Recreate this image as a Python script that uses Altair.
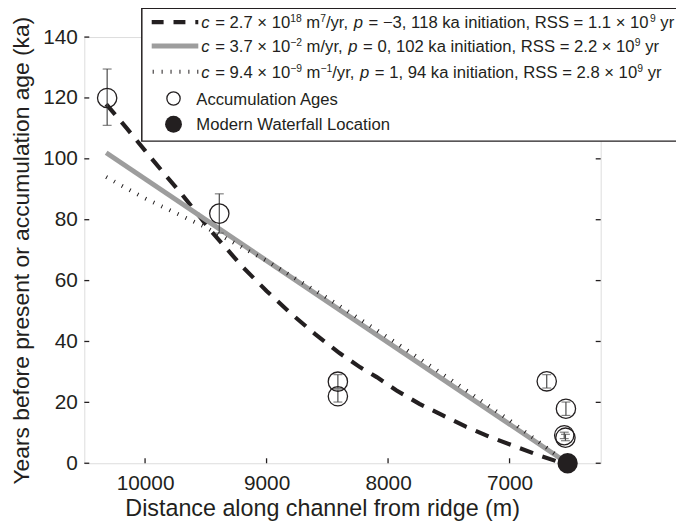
import altair as alt
import pandas as pd

# ---------------- data ----------------
# Accumulation ages (distance from ridge in m, age in ka, error bar low/high)
acc_dist = [10312, 9389, 8413, 8413, 6694, 6536, 6550, 6540]
acc_age = [120.0, 82.0, 26.8, 22.0, 26.9, 17.9, 9.2, 8.4]
acc_lo = [111.0, 75.6, 24.6, 20.1, 24.7, 15.7, 8.1, 7.4]
acc_hi = [129.5, 88.5, 29.1, 24.1, 29.1, 20.1, 10.2, 9.5]

# Modern waterfall location
wf_dist = [6522]
wf_age = [0.0]

# Model curves
dash_dist = [10320, 10150, 10000, 9850, 9700, 9450, 9200, 9000, 8800, 8600, 8400,
             8229, 8093, 7930, 7742, 7549, 7359, 7172, 6952, 6765, 6612, 6522]
dash_age = [118.0, 110.0, 102.7, 95.5, 88.5, 76.0, 64.6, 56.6, 49.2, 42.4, 36.2,
            31.5, 28.3, 23.9, 19.5, 15.7, 12.0, 8.8, 5.5, 2.7, 0.65, 0.0]

gray_dist = [10320, 6522]
gray_age = [102.0, 0.0]

dot_dist = [10320, 10000, 9505, 9000, 8500, 8000, 7500, 7000, 6522]
dot_age = [94.0, 87.0, 77.6, 66.5, 54.3, 41.3, 27.9, 14.1, 0.0]

x_ticks = [10000, 9000, 8000, 7000]
y_ticks = [0, 20, 40, 60, 80, 100, 120, 140]

# legend rows as runs of (text, style): n = normal, i = italic, s = superscript
legend_rows = [
    [("c", "i"), (" = 2.7 × 10", "n"), ("18", "s"), (" m", "n"), ("7", "s"), ("/yr, ", "n"),
     ("p", "i"), (" = −3, 118 ka initiation, RSS = 1.1 × 10", "n"), ("9", "s"), (" yr", "n")],
    [("c", "i"), (" = 3.7 × 10", "n"), ("−2", "s"), (" m/yr, ", "n"),
     ("p", "i"), (" = 0, 102 ka initiation, RSS = 2.2 × 10", "n"), ("9", "s"), (" yr", "n")],
    [("c", "i"), (" = 9.4 × 10", "n"), ("−9", "s"), (" m", "n"), ("−1", "s"), ("/yr, ", "n"),
     ("p", "i"), (" = 1, 94 ka initiation, RSS = 2.8 × 10", "n"), ("9", "s"), (" yr", "n")],
]
legend_marks = ["Accumulation Ages", "Modern Waterfall Location"]

# ---------------- chart ----------------
W, H = 521, 430
FONT = "Liberation Sans"
INK = "#231f20"
LFS = 16.8            # legend font size
SFS = LFS * 0.62      # superscript font size

# Liberation Sans (Arial-metric) advance widths, 1/1000 em
_adv = {" ": 278, "=": 584, ".": 278, ",": 278, "/": 278, "×": 584, "−": 584, "-": 333,
        "m": 833, "y": 500, "r": 333, "k": 500, "a": 556, "i": 222, "n": 556, "t": 278,
        "o": 556, "R": 722, "S": 667, "c": 500, "p": 556}
for ch in "0123456789":
    _adv[ch] = 556


def text_w(s, fs):
    return sum(_adv.get(ch, 556) for ch in s) * fs / 1000.0


xscale = alt.Scale(domain=[6250, 10500], reverse=True, nice=False, zero=False)
yscale = alt.Scale(domain=[0, 140], nice=False, zero=False)

acc = pd.DataFrame({"d": acc_dist, "a": acc_age, "lo": acc_lo, "hi": acc_hi})
wf = pd.DataFrame({"d": wf_dist, "a": wf_age})
dash = pd.DataFrame({"d": dash_dist, "a": dash_age})
gray = pd.DataFrame({"d": gray_dist, "a": gray_age})
dot = pd.DataFrame({"d": dot_dist, "a": dot_age})
xt = pd.DataFrame({"v": x_ticks})
yt = pd.DataFrame({"v": y_ticks})
one = alt.Data(values=[{}])

X = alt.X("d:Q", scale=xscale,
          axis=alt.Axis(values=x_ticks, format="d", ticks=False, tickSize=0, domain=False,
                        grid=False, labelFontSize=21, labelFont=FONT, labelColor=INK,
                        labelPadding=10, title="Distance along channel from ridge (m)",
                        titleFont=FONT, titleFontSize=23.5, titleFontWeight="normal",
                        titleColor=INK, titlePadding=3, titleX=240, titleAlign="center"))
Y = alt.Y("a:Q", scale=yscale,
          axis=alt.Axis(values=y_ticks, ticks=False, tickSize=0, domain=False, grid=False,
                        labelFontSize=21, labelFont=FONT, labelColor=INK, labelPadding=7,
                        title="Years before present or accumulation age (ka)",
                        titleFont=FONT, titleFontSize=23, titleFontWeight="normal",
                        titleColor=INK, titlePadding=9))

base_line = alt.Chart(dash).mark_line(color=INK, strokeWidth=4.2, strokeDash=[14, 10]).encode(x=X, y=Y)
gray_line = alt.Chart(gray).mark_line(color="#9d9d9d", strokeWidth=5).encode(x="d:Q", y="a:Q")
dot_line = alt.Chart(dot).mark_line(color=INK, strokeWidth=4, strokeDash=[1, 8]).encode(x="d:Q", y="a:Q")

err = alt.Chart(acc).mark_rule(color="#4a4a4a", strokeWidth=1.2).encode(x="d:Q", y="lo:Q", y2="hi:Q")
cap_lo = alt.Chart(acc).mark_tick(color="#4a4a4a", orient="horizontal", size=9, thickness=1.2).encode(x="d:Q", y="lo:Q")
cap_hi = alt.Chart(acc).mark_tick(color="#4a4a4a", orient="horizontal", size=9, thickness=1.2).encode(x="d:Q", y="hi:Q")
circles = alt.Chart(acc).mark_point(shape="circle", filled=False, size=380, color=INK, strokeWidth=1.3, opacity=1).encode(x="d:Q", y="a:Q")
waterfall = alt.Chart(wf).mark_point(shape="circle", filled=True, size=420, color=INK, opacity=1).encode(x="d:Q", y="a:Q")

# inward axis ticks on all four sides
TK = 5
tick_b = alt.Chart(xt).mark_rule(color=INK, strokeWidth=1.3).encode(x=alt.X("v:Q"), y=alt.value(H), y2=alt.value(H - TK))
tick_t = alt.Chart(xt).mark_rule(color=INK, strokeWidth=1.3).encode(x=alt.X("v:Q"), y=alt.value(0), y2=alt.value(TK))
tick_l = alt.Chart(yt).mark_rule(color=INK, strokeWidth=1.3).encode(y=alt.Y("v:Q"), x=alt.value(0), x2=alt.value(TK))
tick_r = alt.Chart(yt).mark_rule(color=INK, strokeWidth=1.3).encode(y=alt.Y("v:Q"), x=alt.value(W), x2=alt.value(W - TK))

# legend box (manual)
LX0, LY0, LY1 = 58, -29, 105
rows = [-15, 9, 35, 62, 88]
box = alt.Chart(one).mark_rect(fill="white", stroke=INK, strokeWidth=1.5).encode(
    x=alt.value(LX0), x2=alt.value(700), y=alt.value(LY0), y2=alt.value(LY1))
lg_dash = alt.Chart(one).mark_rule(color=INK, strokeWidth=4.2, strokeDash=[12, 10]).encode(
    x=alt.value(68), x2=alt.value(115), y=alt.value(rows[0]))
lg_gray = alt.Chart(one).mark_rule(color="#9d9d9d", strokeWidth=5).encode(
    x=alt.value(68), x2=alt.value(115), y=alt.value(rows[1]))
lg_dot = alt.Chart(one).mark_rule(color=INK, strokeWidth=4, strokeDash=[1, 8]).encode(
    x=alt.value(69), x2=alt.value(115), y=alt.value(rows[2]))
lg_open = alt.Chart(one).mark_point(shape="circle", filled=False, size=180, color=INK, strokeWidth=1.3, opacity=1).encode(
    x=alt.value(90), y=alt.value(rows[3]))
lg_fill = alt.Chart(one).mark_point(shape="circle", filled=True, size=290, color=INK, opacity=1).encode(
    x=alt.value(90), y=alt.value(rows[4]))


def txt(s, x, y, fs=LFS, style="normal"):
    return alt.Chart(one).mark_text(align="left", baseline="alphabetic", font=FONT, fontSize=fs,
                                    fontStyle=style, color=INK).encode(
        x=alt.value(x), y=alt.value(y), text=alt.value(s))


BASE_OFF = LFS * 0.36  # baseline below row centre
lg_texts = []
for i, runs in enumerate(legend_rows):
    x = 118.0
    yb = rows[i] + BASE_OFF
    for s, st in runs:
        fs = SFS if st == "s" else LFS
        body = s.strip(" ")
        lead = len(s) - len(s.lstrip(" "))
        x += text_w(" " * lead, fs)          # leading blanks are advanced, not drawn
        if st == "s":
            lg_texts.append(txt(body, x, yb - LFS * 0.36, SFS))
        elif st == "i":
            lg_texts.append(txt(body, x, yb, LFS, "italic"))
        else:
            lg_texts.append(txt(body, x, yb))
        x += text_w(s.lstrip(" "), fs) + (1.0 if st == "i" else 0.0)
for j, lab in enumerate(legend_marks):
    lg_texts.append(txt(lab, 113, rows[3 + j] + BASE_OFF))

chart = alt.layer(
    base_line, gray_line, dot_line, err, cap_lo, cap_hi, circles, waterfall,
    tick_b, tick_t, tick_l, tick_r,
    box, lg_dash, lg_gray, lg_dot, lg_open, lg_fill, *lg_texts,
).properties(
    width=W, height=H,
    autosize=alt.AutoSizeParams(type="none"),
    padding={"left": 77, "top": 27, "right": 76, "bottom": 61},
).configure_view(
    stroke=INK, strokeWidth=1.5
).configure(background="white")

chart.save("out.html", embed_options={"renderer": "svg", "actions": False})
